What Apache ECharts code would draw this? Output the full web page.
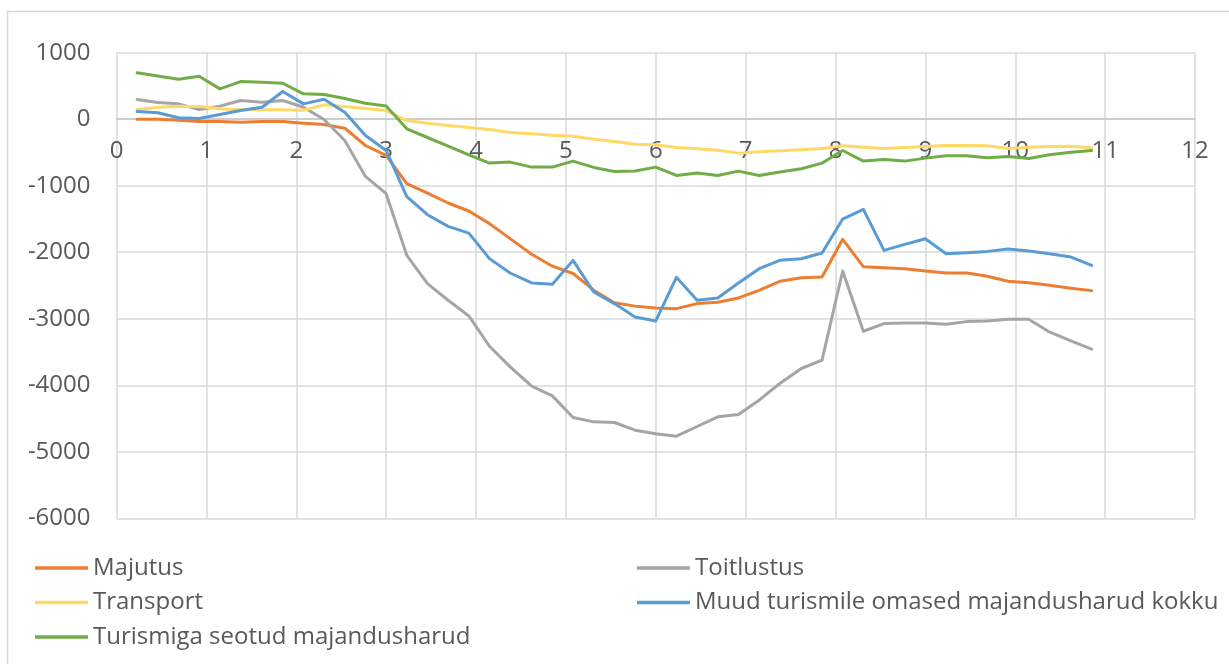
<!DOCTYPE html>
<html>
<head>
<meta charset="utf-8">
<script src="https://cdn.jsdelivr.net/npm/echarts@6/dist/echarts.min.js"></script>
<style>
  html, body { margin: 0; padding: 0; background: #ffffff; }
  #chart { width: 1229px; height: 664px; }
</style>
</head>
<body>
<div id="chart"></div>
<script>
// x positions of the data points (axis units)
var xs = [0.23, 0.46, 0.69, 0.92, 1.15, 1.38, 1.62, 1.85, 2.08, 2.31, 2.54, 2.77, 3.00, 3.23, 3.46, 3.69, 3.92, 4.15, 4.38, 4.62, 4.85, 5.08, 5.31, 5.54, 5.77, 6.00, 6.23, 6.46, 6.69, 6.92, 7.15, 7.38, 7.62, 7.85, 8.08, 8.31, 8.54, 8.77, 9.00, 9.23, 9.46, 9.69, 9.92, 10.15, 10.38, 10.62, 10.85];

var majutus = [0, 0, -15, -35, -35, -45, -35, -35, -60, -80, -135, -395, -545, -970, -1110, -1260, -1380, -1570, -1795, -2030, -2210, -2320, -2570, -2760, -2810, -2840, -2848, -2772, -2752, -2687, -2572, -2437, -2382, -2372, -1806, -2217, -2232, -2247, -2282, -2312, -2312, -2362, -2437, -2457, -2497, -2542, -2577];

var toitlustus = [296, 250, 231, 146, 196, 281, 256, 281, 180, -5, -320, -860, -1120, -2047, -2472, -2722, -2958, -3413, -3724, -4014, -4159, -4484, -4550, -4560, -4675, -4730, -4765, -4620, -4474, -4439, -4224, -3974, -3748, -3623, -2282, -3188, -3073, -3063, -3063, -3083, -3043, -3033, -3008, -3008, -3198, -3333, -3458];

var transport = [146, 180, 196, 190, 156, 141, 141, 141, 135, 216, 190, 160, 130, -20, -60, -95, -125, -155, -200, -220, -240, -255, -300, -335, -375, -385, -425, -445, -465, -510, -490, -475, -460, -440, -400, -420, -440, -425, -410, -395, -395, -400, -440, -420, -410, -405, -430];

var muud = [116, 96, 21, 10, 70, 130, 180, 416, 231, 300, 105, -245, -470, -1165, -1436, -1611, -1712, -2096, -2312, -2462, -2482, -2122, -2597, -2772, -2973, -3033, -2377, -2722, -2687, -2462, -2247, -2122, -2097, -2012, -1501, -1356, -1972, -1882, -1797, -2022, -2007, -1987, -1952, -1982, -2022, -2072, -2197];

var turismiga = [697, 651, 601, 646, 456, 566, 556, 541, 381, 371, 311, 240, 200, -144, -275, -405, -535, -660, -645, -720, -720, -630, -725, -785, -780, -720, -845, -810, -845, -780, -845, -795, -745, -660, -470, -630, -605, -630, -585, -550, -550, -580, -560, -590, -535, -495, -470];

var seriesNames = ['Majutus', 'Toitlustus', 'Transport', 'Muud turismile omased majandusharud kokku', 'Turismiga seotud majandusharud'];
var seriesValues = [majutus, toitlustus, transport, muud, turismiga];
var seriesColors = ['#ED7D31', '#A5A5A5', '#FFD966', '#5B9BD5', '#70AD47'];

var yMin = -6000, yMax = 1000;

function pairs(vals) {
  return vals.map(function (v, i) { return [xs[i], v]; });
}

var FONT = 'Open Sans';
var TXT = '#595959';

var gridTop = 52.7, gridBottom = 145.7, H = 664;
var gridH = H - gridTop - gridBottom;
// distance from bottom of grid up to the zero line
var zeroOffset = gridH * (0 - yMin) / (yMax - yMin);

var chart = echarts.init(document.getElementById('chart'), null, { renderer: 'canvas' });

var legendCommon = {
  orient: 'vertical',
  padding: 0,
  itemGap: 10.5,
  itemWidth: 53,
  itemHeight: 3.5,
  icon: 'rect',
  textStyle: { fontFamily: FONT, fontSize: 24, color: TXT, lineHeight: 24 },
  selectedMode: false
};

chart.setOption({
  backgroundColor: '#ffffff',
  animation: false,
  graphic: [{
    type: 'rect',
    shape: { x: 7.5, y: 11.5, width: 1300, height: 700 },
    style: { fill: 'none', stroke: '#d9d9d9', lineWidth: 1.5 },
    silent: true,
    z: -10
  }],
  grid: { left: 116.5, right: 34, top: gridTop, bottom: gridBottom, containLabel: false },
  legend: [
    Object.assign({ left: 35, top: 556, data: [seriesNames[0], seriesNames[2], seriesNames[4]] }, legendCommon),
    Object.assign({ left: 637, top: 556, data: [seriesNames[1], seriesNames[3]] }, legendCommon)
  ],
  xAxis: {
    type: 'value',
    min: 0, max: 12, interval: 1,
    position: 'bottom',
    offset: -zeroOffset,
    axisLine: { show: true, onZero: false, lineStyle: { color: '#c6c6c6', width: 1.5 } },
    axisTick: { show: false },
    axisLabel: { fontFamily: FONT, fontSize: 24, color: TXT, margin: 20, formatter: function (v) { return String(v); } },
    splitLine: { show: true, lineStyle: { color: '#d9d9d9', width: 1.5 } }
  },
  yAxis: {
    type: 'value',
    min: yMin, max: yMax, interval: 1000,
    axisLine: { show: false },
    axisTick: { show: false },
    axisLabel: { fontFamily: FONT, fontSize: 24, color: TXT, margin: 26, formatter: function (v) { return String(v); } },
    splitLine: { show: true, lineStyle: { color: '#d9d9d9', width: 1.5 } }
  },
  series: seriesNames.map(function (name, i) {
    return {
      name: name,
      type: 'line',
      data: pairs(seriesValues[i]),
      showSymbol: false,
      symbol: 'none',
      smooth: false,
      color: seriesColors[i],
      lineStyle: { width: 3, color: seriesColors[i], cap: 'round', join: 'round' },
      itemStyle: { color: seriesColors[i] },
      emphasis: { disabled: true }
    };
  })
});
</script>
</body>
</html>
